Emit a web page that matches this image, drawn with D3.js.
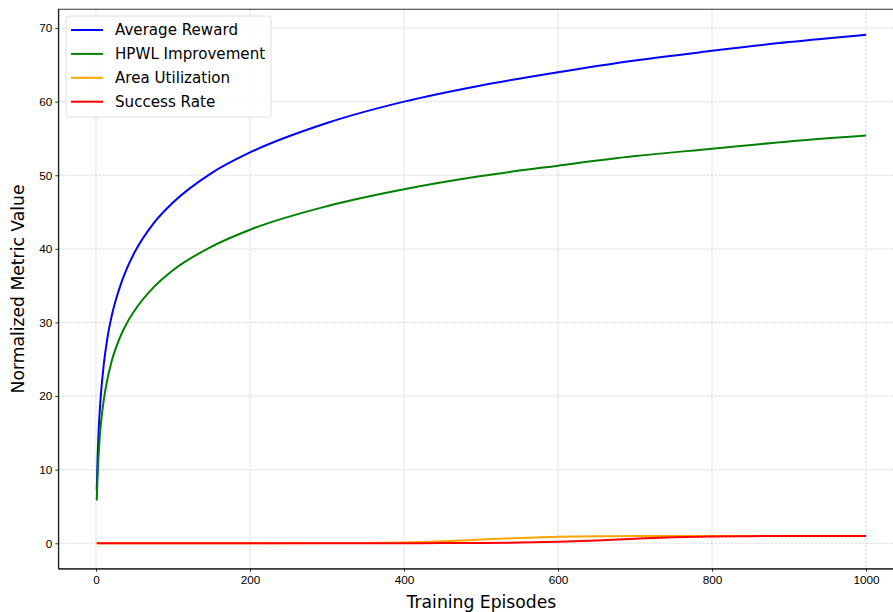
<!DOCTYPE html>
<html>
<head>
<meta charset="utf-8">
<script src="https://cdn.jsdelivr.net/npm/d3@7"></script>
<style>
  body { margin: 0; background: #fff; overflow: hidden; }
  svg { font-family: "DejaVu Sans", sans-serif; display: block; }
  .grid line { stroke: #b0b0b0; stroke-width: 0.5; stroke-dasharray: 2.5,1.5; }
  .axis path, .axis line { stroke: #000; stroke-width: 0.8; }
  .axis text { font-size: 11.8px; fill: #000; }
</style>
</head>
<body>
<script>
// episodes at which values were read
var episodes = [1, 2, 3, 5, 7, 10, 15, 20, 30, 40, 50, 75, 100, 150, 200, 300, 400, 500, 600, 700, 800, 900, 1000];
var avgReward = [7.2, 11.3, 14.2, 18.2, 21.0, 24.2, 28.0, 30.7, 34.5, 37.3, 39.5, 43.5, 46.3, 50.3, 53.1, 57.1, 60.0, 62.2, 64.0, 65.6, 66.9, 68.1, 69.1];
var hpwl = [5.8, 9.0, 11.3, 14.6, 16.9, 19.4, 22.4, 24.6, 27.7, 29.9, 31.6, 34.8, 37.1, 40.3, 42.6, 45.8, 48.1, 49.9, 51.3, 52.6, 53.6, 54.6, 55.4];

var episodes2 = [1, 100, 200, 300, 350, 400, 450, 500, 550, 600, 650, 700, 750, 800, 850, 900, 1000];
var areaUtil = [0, 0, 0, 0.02, 0.05, 0.12, 0.27, 0.5, 0.73, 0.88, 0.95, 0.98, 0.99, 1.0, 1.0, 1.0, 1.0];
var successRate = [0, 0, 0, 0, 0, 0.01, 0.02, 0.05, 0.1, 0.2, 0.38, 0.62, 0.82, 0.93, 0.97, 0.99, 1.0];

var seriesNames = ['Average Reward', 'HPWL Improvement', 'Area Utilization', 'Success Rate'];
var seriesColors = ['blue', 'green', 'orange', 'red'];
var xTicks = [0, 200, 400, 600, 800, 1000];
var yTicks = [0, 10, 20, 30, 40, 50, 60, 70];

var width = 893, height = 612;
var plotL = 58.3, plotR = 904.5, plotT = 9.2, plotB = 568.7;

var x = d3.scaleLinear().domain([-48.95, 1049.95]).range([plotL, plotR]);
var y = d3.scaleLinear().domain([-3.455, 72.56]).range([plotB, plotT]);

var svg = d3.select('body').append('svg')
  .attr('width', width)
  .attr('height', height);

// grid
var grid = svg.append('g').attr('class', 'grid');
grid.selectAll('.gx').data(xTicks).enter().append('line')
  .attr('x1', function(d) { return x(d); }).attr('x2', function(d) { return x(d); })
  .attr('y1', plotT).attr('y2', plotB);
grid.selectAll('.gy').data(yTicks).enter().append('line')
  .attr('x1', plotL).attr('x2', plotR)
  .attr('y1', function(d) { return y(d); }).attr('y2', function(d) { return y(d); });

// axes
svg.append('g')
  .attr('class', 'axis axis--x')
  .attr('transform', 'translate(0,' + plotB + ')')
  .call(d3.axisBottom(x).tickValues(xTicks).tickFormat(d3.format('d')).tickSize(3).tickPadding(3).tickSizeOuter(0));

svg.append('g')
  .attr('class', 'axis axis--y')
  .attr('transform', 'translate(' + plotL + ',0)')
  .call(d3.axisLeft(y).tickValues(yTicks).tickFormat(d3.format('d')).tickSize(3).tickPadding(3).tickSizeOuter(0));

svg.selectAll('.axis--x .tick text').attr('dy', '0.76em');

// frame
svg.append('rect')
  .attr('x', plotL).attr('y', plotT)
  .attr('width', plotR - plotL).attr('height', plotB - plotT)
  .attr('fill', 'none').attr('stroke', '#000').attr('stroke-width', 0.8);

// lines
var line = d3.line()
  .curve(d3.curveMonotoneX)
  .x(function(d) { return x(d[0]); })
  .y(function(d) { return y(d[1]); });

var series = [
  d3.zip(episodes, avgReward),
  d3.zip(episodes, hpwl),
  d3.zip(episodes2, areaUtil),
  d3.zip(episodes2, successRate)
];

svg.selectAll('.series').data(series).enter().append('path')
  .attr('class', 'series')
  .attr('fill', 'none')
  .attr('stroke', function(d, i) { return seriesColors[i]; })
  .attr('stroke-width', 2)
  .attr('d', line);

// axis labels
svg.append('text')
  .attr('x', (plotL + plotR) / 2).attr('y', 608)
  .attr('text-anchor', 'middle')
  .style('font-size', '17.2px')
  .text('Training Episodes');

svg.append('text')
  .attr('transform', 'translate(24,' + (plotT + plotB) / 2 + ') rotate(-90)')
  .attr('text-anchor', 'middle')
  .style('font-size', '17.2px')
  .text('Normalized Metric Value');

// legend
var legend = svg.append('g');
legend.append('rect')
  .attr('x', 66).attr('y', 16)
  .attr('width', 205).attr('height', 101)
  .attr('rx', 3)
  .attr('fill', 'rgba(255,255,255,0.8)')
  .attr('stroke', '#d5d5d5').attr('stroke-width', 0.8);

var items = legend.selectAll('.item').data(seriesNames).enter().append('g')
  .attr('transform', function(d, i) { return 'translate(0,' + (30 + i * 23.9) + ')'; });
items.append('line')
  .attr('x1', 71).attr('x2', 103)
  .attr('stroke', function(d, i) { return seriesColors[i]; })
  .attr('stroke-width', 2);
items.append('text')
  .attr('x', 115).attr('dy', '0.36em')
  .style('font-size', '15.1px')
  .text(function(d) { return d; });
</script>
</body>
</html>
